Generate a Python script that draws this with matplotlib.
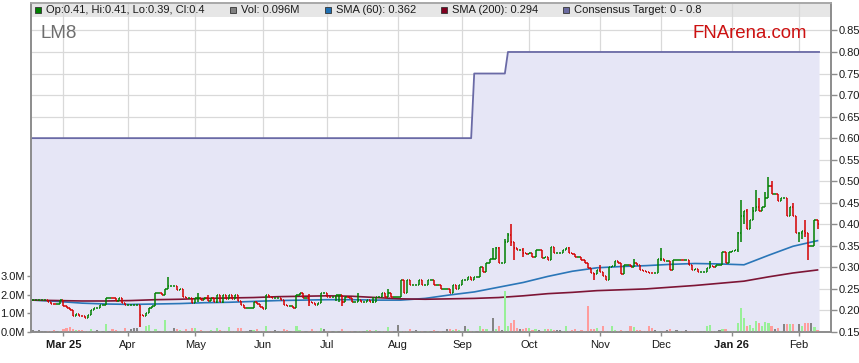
import numpy as np
import pandas as pd
import matplotlib
matplotlib.use("Agg")
import matplotlib.pyplot as plt
from matplotlib.collections import LineCollection
from matplotlib.patches import Rectangle

plt.rcParams['font.family'] = ['Liberation Sans', 'DejaVu Sans']

# === Data (daily bars, one per weekday from 17 Feb 2025) ===
first_day = '2025-02-17'

opens = [
    .224, .224, .224, .224, .224, .224, .219, .216, .214, .214,
    .224, .210, .206, .200, .188, .191, .188, .186, .182, .190,
    .200, .205, .205, .213, .213, .230, .230, .228, .222, .230,
    .218, .213, .213, .213, .213, .213, .190, .186, .195, .205,
    .210, .240, .240, .236, .250, .257, .257, .257, .248, .250,
    .232, .230, .230, .218, .228, .228, .224, .230, .222, .230,
    .220, .236, .220, .236, .226, .235, .226, .235, .222, .213,
    .205, .205, .205, .220, .215, .208, .204, .235, .232, .228,
    .228, .228, .224, .213, .210, .210, .205, .236, .240, .230,
    .230, .220, .218, .213, .217, .240, .240, .232, .231, .231,
    .236, .236, .220, .232, .228, .219, .219, .224, .219, .219,
    .225, .219, .220, .232, .232, .240, .232, .240, .232, .232,
    .232, .271, .240, .271, .259, .259, .259, .271, .259, .259,
    .271, .271, .259, .259, .250, .250, .250, .240, .259, .250,
    .259, .270, .270, .278, .271, .278, .278, .302, .290, .310,
    .320, .320, .344, .310, .310, .360, .375, .360, .345, .340,
    .340, .333, .330, .333, .323, .340, .340, .322, .325, .317,
    .348, .333, .333, .333, .340, .344, .333, .330, .325, .325,
    .318, .310, .298, .288, .285, .295, .290, .280, .270, .300,
    .303, .315, .310, .285, .305, .305, .300, .310, .305, .295,
    .292, .290, .288, .287, .287, .320, .320, .315, .315, .295,
    .317, .317, .318, .316, .316, .305, .295, .297, .290, .290,
    .290, .298, .303, .300, .305, .305, .335, .310, .336, .338,
    .340, .380, .420, .430, .390, .410, .430, .440, .430, .440,
    .460, .490, .470, .470, .455, .460, .460, .420, .440, .420,
    .380, .380, .385, .380, .350, .350, .410,
]

closes = [
    .224, .224, .224, .224, .224, .219, .216, .214, .214, .224,
    .210, .206, .200, .188, .191, .188, .186, .182, .190, .200,
    .205, .205, .213, .213, .230, .230, .228, .222, .230, .218,
    .213, .213, .213, .213, .213, .190, .186, .195, .205, .210,
    .240, .240, .236, .250, .257, .257, .257, .248, .250, .232,
    .230, .230, .218, .228, .228, .224, .230, .222, .230, .220,
    .236, .220, .236, .226, .235, .226, .235, .222, .213, .205,
    .205, .205, .220, .215, .208, .204, .235, .232, .228, .228,
    .228, .224, .213, .210, .210, .205, .236, .240, .230, .230,
    .220, .218, .213, .217, .240, .240, .232, .231, .231, .236,
    .236, .220, .232, .228, .219, .219, .224, .219, .219, .225,
    .219, .220, .232, .232, .240, .232, .240, .232, .232, .232,
    .271, .240, .271, .259, .259, .259, .271, .259, .259, .271,
    .271, .259, .259, .250, .250, .250, .240, .259, .250, .259,
    .270, .270, .278, .271, .278, .278, .302, .290, .310, .320,
    .320, .344, .310, .310, .360, .375, .360, .345, .340, .340,
    .333, .330, .333, .323, .340, .340, .322, .325, .317, .348,
    .333, .333, .333, .340, .344, .333, .330, .325, .325, .318,
    .310, .298, .288, .285, .295, .290, .280, .270, .300, .303,
    .315, .310, .285, .305, .305, .300, .310, .305, .295, .292,
    .290, .288, .287, .287, .320, .320, .315, .315, .295, .317,
    .317, .318, .316, .316, .305, .295, .297, .290, .290, .290,
    .298, .303, .300, .305, .305, .335, .310, .336, .338, .340,
    .380, .420, .430, .390, .410, .430, .440, .430, .440, .460,
    .490, .470, .470, .455, .460, .460, .420, .440, .420, .380,
    .380, .385, .380, .350, .350, .410, .400,
]

# intraday extremes that stick out beyond open/close (bar number -> price)
extra_high = {35: .213, 44: .278, 54: .240, 57: .236, 90: .238, 106: .240,
              111: .232, 116: .250, 150: .344, 151: .348, 152: .348, 154: .367,
              155: .380, 156: .400, 160: .344, 175: .348, 185: .305, 196: .320,
              205: .344, 221: .315, 225: .336, 226: .333, 230: .383, 231: .456,
              233: .435, 235: .440, 236: .480, 237: .460, 239: .476, 240: .510,
              241: .500, 246: .460, 248: .450, 249: .418, 252: .410}
extra_low = {35: .162, 54: .220, 60: .218, 62: .218, 76: .210, 86: .208,
             90: .211, 99: .222, 100: .220, 101: .210, 111: .217, 156: .350,
             157: .317, 160: .325, 169: .317, 183: .270, 205: .315, 230: .336,
             231: .360, 232: .400, 250: .360, 251: .365, 252: .370, 253: .317,
             256: .390}

volumes = [  # millions of shares
    .10, .05, .10, .03, .03, .08, .08, .10, .03, .05,
    .15, .20, .28, .15, .12, .12, .12, .05, .05, .15,
    .05, .10, .05, .05, .42, .05, .15, .10, .05, .05,
    .20, .05, .15, .20, .20, .05, .05, .30, .40, .05,
    .15, .05, .05, .65, .05, .05, .20, .15, .10, .05,
    .15, .05, .20, .20, .05, .10, .05, .05, .10, .05,
    .20, .10, .05, .05, .25, .05, .05, .20, .20, .05,
    .05, .10, .10, .15, .05, .05, .35, .05, .05, .10,
    .05, .05, .15, .10, .05, .05, .35, .10, .05, .05,
    .05, .15, .05, .05, .20, .15, .05, .05, .05, .05,
    .05, .15, .05, .05, .05, .07, .05, .07, .05, .10,
    .10, .05, .12, .07, .03, .05, .25, .05, .05, .40,
    .05, .07, .05, .15, .05, .10, .05, .05, .05, .07,
    .05, .10, .05, .05, .05, .15, .15, .12, .15, .12,
    .05, .30, .15, .05, .05, .05, .35, .15, .15, .05,
    .75, .15, .30, .10, 2.2, .30, .50, .65, .20, .15,
    .15, .20, .20, .10, .15, .10, .05, .15, .15, .15,
    .10, .10, .10, .05, .30, .08, .10, .15, .05, .10,
    .05, 1.4, .15, .15, .20, .05, .30, .05, .05, .30,
    .10, .07, .10, .05, .05, .35, .25, .10, .10, .05,
    .05, .35, .20, .10, .05, .05, .05, .10, .15, .05,
    .10, .05, .05, .10, .05, .05, .05, .05, .05, .05,
    .30, .40, .05, .05, .10, .15, .15, .05, .05, .05,
    .50, 1.3, .75, .30, .40, .20, .60, .50, .30, .55,
    .50, .30, .15, .20, .05, .45, .45, .45, .45, .05,
    .45, .30, .50, .50, .50, .25, .096,
]

# moving averages read every 8th bar
sma_step = 8
sma60 = [.224, .221, .217, .215, .214, .215, .216, .218, .219, .221, .223,
         .224, .225, .225, .224, .224, .228, .236, .243, .254, .265, .279,
         .291, .299, .302, .304, .307, .309, .308, .306, .328, .349, .362]
sma200 = [.224, .223, .222, .222, .223, .225, .226, .228, .229, .230, .232,
          .233, .234, .233, .230, .227, .226, .227, .228, .230, .234, .239,
          .242, .246, .248, .250, .254, .258, .263, .268, .278, .287, .294]

# consensus target changes
tgt_dates = ['2025-02-17', '2025-09-05', '2025-09-22']
tgt_values = [0.60, 0.75, 0.80]

legend_items = [
    ('Op:0.41, Hi:0.41, Lo:0.39, Cl:0.4', '#008000'),
    ('Vol: 0.096M', '#808080'),
    ('SMA (60): 0.362', '#1f6fb2'),
    ('SMA (200): 0.294', '#800020'),
    ('Consensus Target: 0 - 0.8', '#6b6ba0'),
]

# === Prepare ===
o = np.array(opens)
c = np.array(closes)
n = len(c)
idx = np.arange(n)
dates = pd.bdate_range(first_day, periods=n)
h = np.maximum(o, c)
l = np.minimum(o, c)
for k, v in extra_high.items():
    h[k] = max(h[k], v)
for k, v in extra_low.items():
    l[k] = min(l[k], v)

W, H = 859, 363
L, R, T, B = 31, 831, 3, 332
GRID = '#d9d9d9'
AXC = '#8c8c8c'

fig = plt.figure(figsize=(W / 100, H / 100), dpi=100)
ax = fig.add_axes([L / W, 1 - B / H, (R - L) / W, (B - T) / H])
axv = ax.twinx()

ax.set_xlim(-0.6, 260.4)
ax.set_ylim(0.15, 0.9137)
axv.set_ylim(0, 17.78)

ax.set_axisbelow(True)
ax.grid(True, color=GRID, lw=0.9)
ax.add_patch(Rectangle((0, (B - 17) / (B - T)), 1, 14 / (B - T), transform=ax.transAxes,
                       facecolor='#e6e6e6', edgecolor='none', zorder=0.2))

# consensus target area
tpos = np.searchsorted(pd.to_datetime(tgt_dates), dates, side='right') - 1
tgt = np.array(tgt_values)[tpos]
tx = np.r_[-0.6, idx, idx[-1] + 0.5]
ty = np.r_[tgt[0], tgt, tgt[-1]]
ax.fill_between(tx, 0.15, ty, color='#e6e6f6', lw=0, zorder=1)
ax.plot(tx, ty, color='#6a6aa6', lw=1.3, zorder=2)

# moving averages
ax.plot(idx[::sma_step], sma60, color='#2a76b8', lw=1.2, zorder=3)
ax.plot(idx[::sma_step], sma200, color='#7d1535', lw=1.2, zorder=3)

# OHLC bars
segs, cols = [], []
for i in range(n):
    col = '#008000' if c[i] >= o[i] else '#d40000'
    segs += [[(i, l[i]), (i, h[i])], [(i - 0.4, o[i]), (i, o[i])], [(i, c[i]), (i + 0.4, c[i])]]
    cols += [col] * 3
ax.add_collection(LineCollection(segs, colors=cols, linewidths=1.1, zorder=4))

# volume
vcol = np.where(c > o, '#98f098', np.where(c < o, '#ff9c9c', '#858585'))
axv.bar(idx, volumes, width=0.7, color=vcol, lw=0, zorder=2)

# axes styling
ax.yaxis.tick_right()
axv.yaxis.tick_left()
yt = np.arange(0.15, 0.851, 0.05)
ax.set_yticks(yt)
ax.set_yticklabels([f'{v:.2f}' for v in yt])
axv.set_yticks([0, 1, 2, 3])
axv.set_yticklabels([f'{v:.1f}M' for v in [0, 1, 2, 3]])

new_month = np.r_[False, dates.month[1:] != dates.month[:-1]]
mpos = idx[new_month]
mlabels = []
for j, p in enumerate(mpos):
    d = dates[p]
    mlabels.append(d.strftime('%b %y') if (j == 0 or d.month == 1) else d.strftime('%b'))
ax.set_xticks(mpos)
ax.set_xticklabels(mlabels)
for t, lab in zip(ax.get_xticklabels(), mlabels):
    if ' ' in lab:
        t.set_fontweight('bold')

ax.tick_params(axis='y', direction='out', length=4, width=1, color=AXC,
               labelsize=8, pad=1.5, labelcolor='#1a1a1a')
ax.tick_params(axis='x', direction='out', length=3, width=1, color=AXC,
               labelsize=8, pad=3, labelcolor='#1a1a1a')
axv.tick_params(axis='y', direction='out', length=3, width=1, color=AXC,
                labelsize=8, pad=1.5, labelcolor='#1a1a1a')
for a in (ax, axv):
    for s in a.spines.values():
        s.set_color(AXC)
        s.set_linewidth(1.2)
    a.spines['top'].set_color('#a8a8a8')

# header texts
def fx(x):
    return x / W


def fy(y):
    return 1 - y / H


fig.text(fx(41), fy(33), 'LM8', fontsize=13.5, color='#6e6e6e', va='center')
fig.text(fx(693), fy(33), 'FNArena.com', fontsize=13.4, color='#cc1111', va='center')

leg_x = [35, 230, 325, 441, 563]
for x0, (txt, col) in zip(leg_x, legend_items):
    fig.add_artist(Rectangle((fx(x0), fy(13)), 6 / W, 6 / H, transform=fig.transFigure,
                             facecolor=col, edgecolor='#333333', lw=0.6))
    fig.text(fx(x0 + 11), fy(10), txt, fontsize=8, color='#1a1a1a', va='center')

fig.savefig('out.png', dpi=100)
